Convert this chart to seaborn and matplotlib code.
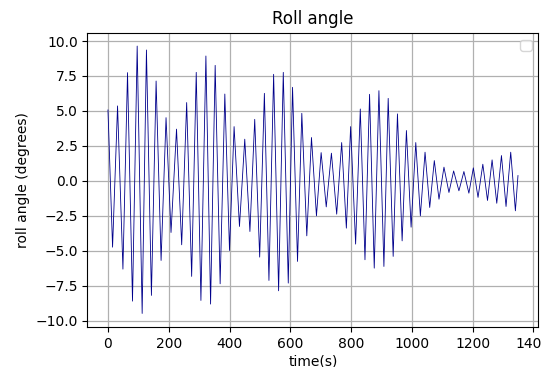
import matplotlib
matplotlib.use("Agg")
import matplotlib.pyplot as plt
import seaborn as sns
import pandas as pd

# Turning points (extrema) of the roll-angle record
time_s = [0, 15.1, 31.5, 49.2, 64.3, 80.7, 96.1, 112.5, 126.6, 143.0,
          158.4, 174.8, 191.1, 207.5, 225.6, 242.6, 259.0, 275.4, 290.5, 305.9,
          322.3, 337.7, 352.8, 369.2, 384.6, 400.0, 415.1, 432.8, 450.2, 467.2,
          483.0, 499.3, 514.8, 529.8, 545.2, 561.6, 577.0, 593.4, 607.5, 623.9,
          638.0, 654.4, 669.8, 686.2, 701.6, 718.4, 735.4, 752.8, 769.2, 784.6,
          798.7, 815.1, 830.5, 845.9, 861.0, 876.4, 891.8, 908.2, 922.3, 938.7,
          952.8, 968.2, 982.3, 997.7, 1013.1, 1028.2, 1043.6, 1059.0, 1074.1, 1089.5,
          1105.9, 1122.3, 1137.7, 1155.1, 1171.5, 1187.9, 1202.6, 1218.0, 1233.8, 1249.2,
          1264.3, 1279.7, 1295.1, 1310.2, 1325.6, 1341.0, 1349.5]
roll_deg = [5.07, -4.74, 5.36, -6.31, 7.74, -8.60, 9.64, -9.48, 9.36, -8.19,
            7.14, -5.69, 4.52, -3.69, 3.70, -4.57, 5.60, -6.83, 7.76, -8.55,
            8.93, -8.81, 8.26, -7.36, 6.21, -4.98, 3.88, -3.26, 2.98, -3.62,
            4.40, -5.45, 6.26, -7.12, 7.62, -7.86, 7.76, -7.31, 6.69, -5.76,
            4.83, -3.93, 3.10, -2.50, 2.02, -1.86, 1.98, -2.38, 2.74, -3.38,
            3.88, -4.52, 5.14, -5.64, 6.19, -6.24, 6.45, -6.12, 5.90, -5.40,
            4.79, -4.29, 3.60, -3.31, 2.74, -2.50, 2.05, -1.90, 1.45, -1.31,
            0.98, -0.83, 0.71, -0.71, 0.67, -0.88, 0.93, -1.18, 1.19, -1.40,
            1.50, -1.60, 1.81, -1.83, 2.05, -2.14, 0.38]

df = pd.DataFrame({"time(s)": time_s, "roll angle (degrees)": roll_deg})

fig = plt.figure(figsize=(5.42, 3.67), dpi=100)
ax = fig.add_axes([0.1614, 0.1095, 0.8321, 0.8014])

sns.lineplot(data=df, x="time(s)", y="roll angle (degrees)", ax=ax,
             color="darkblue", linewidth=0.6, estimator=None, sort=False)

ax.set_title("Roll angle", fontsize=12)
ax.set_xlabel("time(s)", fontsize=10, labelpad=2.5)
ax.set_ylabel("roll angle (degrees)", fontsize=10)
ax.set_xticks([0, 200, 400, 600, 800, 1000, 1200, 1400])
ax.set_yticks([-10.0, -7.5, -5.0, -2.5, 0.0, 2.5, 5.0, 7.5, 10.0])
ax.grid(True, color="#b0b0b0", linewidth=0.9)
ax.legend(handles=[], loc="upper right")

fig.savefig("out.png", dpi=100)
